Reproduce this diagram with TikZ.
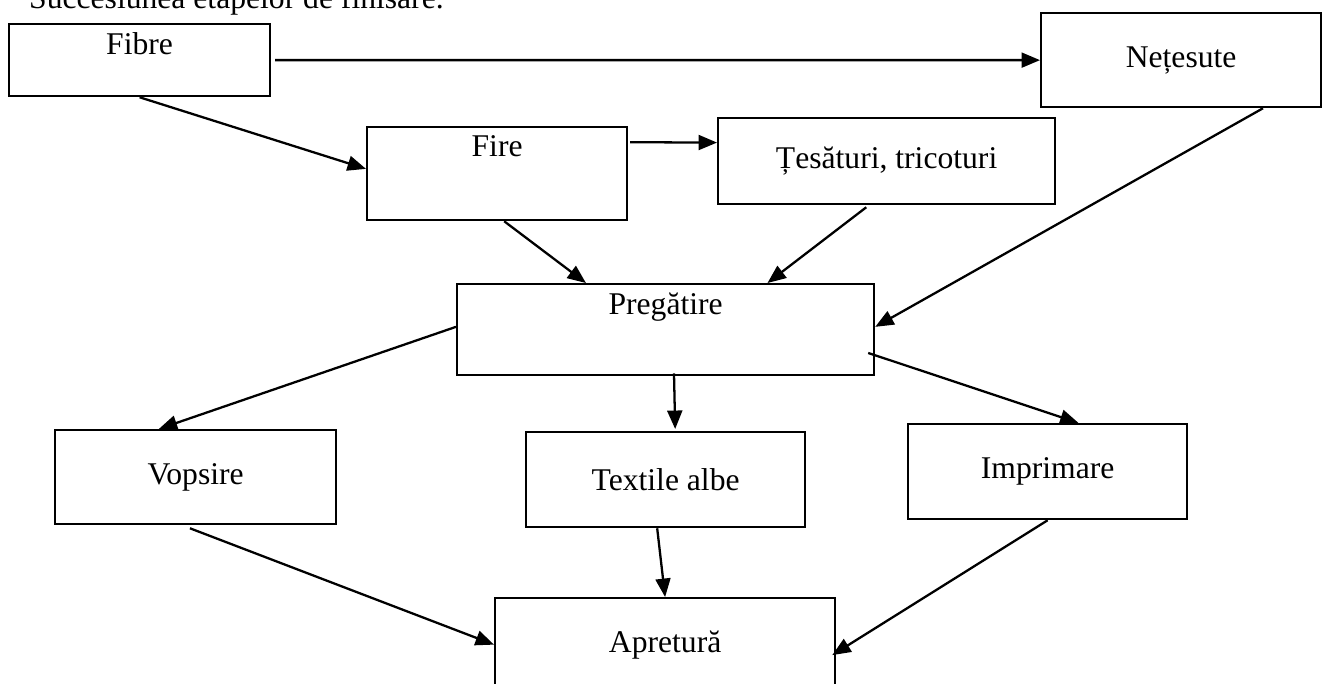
\documentclass[tikz,border=0pt]{standalone}
\usepackage{fontspec}
\setmainfont{Liberation Serif}
\usetikzlibrary{calc,arrows.meta}

\begin{document}
\begin{tikzpicture}[x=0.02cm, y=-0.02cm,
		box/.style={draw, line width=1.3pt, inner sep=0pt, anchor=north west, font=\fontsize{18}{22}\selectfont},
		topbox/.style={box, text height=0.6cm},
		link/.style={line width=1.3pt, -{Triangle[length=10.5pt,width=8.5pt]}}]
		%%%%% START %%%%%
		\useasboundingbox (0,0) rectangle (1327,683);
		
		\node[anchor=base west, font=\fontsize{18}{22}\selectfont] (title) at (23,8) {Succesiunea etapelor de finisare.};
		
		\node[topbox, minimum width=5.22cm, text depth=0.84cm] (fibre) at (8,23) {Fibre};
		\node[box, minimum width=5.6cm, minimum height=1.88cm] (netesute) at (1040,12) {Nețesute};
		
		\node[topbox, minimum width=5.2cm, text height=0.58cm, text depth=1.28cm] (fire) at (366,126) {Fire};
		\node[box, minimum width=6.74cm, minimum height=1.72cm] (tesaturi) at (717,117) {Țesături, tricoturi};
		
		\node[topbox, minimum width=8.34cm, text depth=1.22cm] (pregatire) at (456,283) {Pregătire};
		
		\node[box, minimum width=5.62cm, minimum height=1.88cm] (vopsire) at (54,429) {Vopsire};
		\node[box, minimum width=5.58cm, minimum height=1.9cm] (textile) at (525,431) {Textile albe};
		\node[box, minimum width=5.58cm, minimum height=1.9cm] (imprimare) at (907,423) {Imprimare};
		
		\node[box, minimum width=6.8cm, minimum height=1.86cm] (apretura) at (494,597) {Apretură};
		
		% from fibres
		\draw[link] ($(fibre.east)+(4,0)$) -- (netesute.west);
		\draw[link] (fibre.south) -- ($(fire.north west)!0.45!(fire.south west)$);
		\draw[link] ($(fire.north east)!0.17!(fire.south east)+(2,0)$) -- ($(tesaturi.north west)!0.29!(tesaturi.south west)$);
		
		% into preparation
		\draw[link] ($(fire.south west)!0.527!(fire.south east)$) -- ($(pregatire.north west)!0.31!(pregatire.north east)$);
		\draw[link] ($(tesaturi.south west)!0.44!(tesaturi.south east)+(0,2)$) -- ($(pregatire.north west)!0.743!(pregatire.north east)$);
		\draw[link] ($(netesute.south west)!0.79!(netesute.south east)$) -- ($(pregatire.north east)!0.47!(pregatire.south east)$);
		
		% out of preparation
		\draw[link] ($(pregatire.north west)!0.47!(pregatire.south west)$) -- ($(vopsire.north west)!0.37!(vopsire.north east)$);
		\draw[link] ($(pregatire.south west)!0.52!(pregatire.south east)+(0,-3)$) -- ($(textile.north west)!0.534!(textile.north east)+(0,-2)$);
		\draw[link] ($(pregatire.north east)!0.75!(pregatire.south east)+(-7,0)$) -- ($(imprimare.north west)!0.61!(imprimare.north east)$);
		
		% to finishing
		\draw[link] ($(vopsire.south west)!0.48!(vopsire.south east)+(0,3)$) -- (apretura.west);
		\draw[link] ($(textile.south west)!0.47!(textile.south east)$) -- (apretura.north);
		\draw[link] (imprimare.south) -- ($(apretura.north east)!0.61!(apretura.south east)+(-4,0)$);
		
		%%%%% END %%%%%
	\end{tikzpicture}
\end{document}
